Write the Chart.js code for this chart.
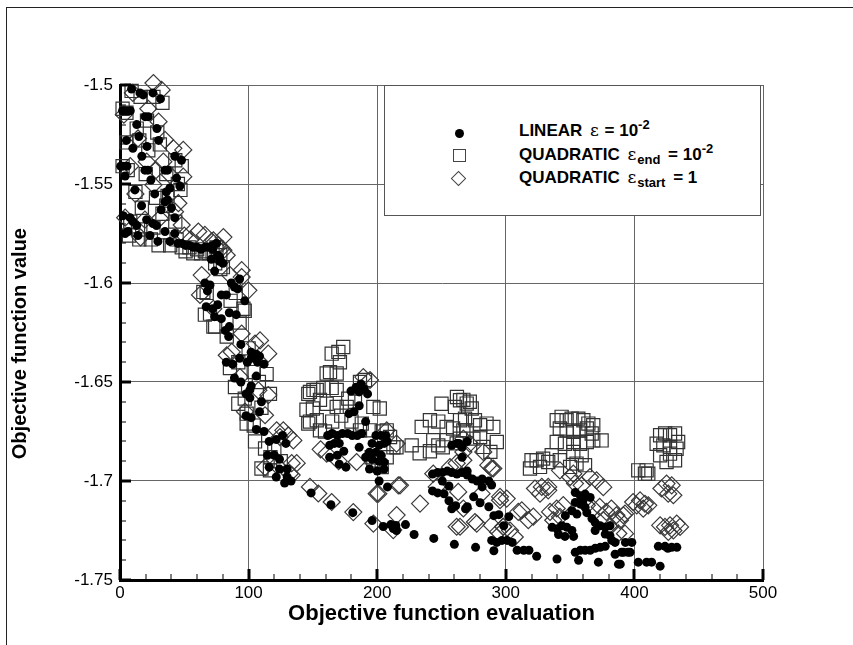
<!DOCTYPE html>
<html>
<head>
<meta charset="utf-8">
<script src="https://cdn.jsdelivr.net/npm/chart.js@4.4.1/dist/chart.umd.min.js"></script>
<style>
  html, body { margin: 0; padding: 0; background: #fff; }
  #wrap { position: relative; width: 853px; height: 645px; overflow: hidden; background: #fff; }
  #frame { position: absolute; left: 6px; top: 7px; width: 900px; height: 700px; border-left: 1.5px solid #222; border-top: 1.5px solid #222; pointer-events: none; }
  #legend { position: absolute; left: 384px; top: 85px; width: 377px; height: 131px; background: #fff; border: 1px solid #555; box-sizing: border-box;
            font-family: 'Liberation Sans', Arial, sans-serif; font-weight: bold; font-size: 17px; color: #000; }
  .row { position: absolute; left: 0; width: 100%; height: 20px; }
  .mk { position: absolute; box-sizing: border-box; }
  .txt { position: absolute; left: 134px; top: 0; line-height: 20px; white-space: nowrap; }
  .eps { font-family: 'DejaVu Serif', serif; font-weight: normal; font-size: 17px; margin: 0 1px 0 3px; }
  sub, sup { font-size: 13px; line-height: 0; }
  sub { margin-right: 3px; }
</style>
</head>
<body>
<div id="wrap">
  <canvas id="chart" width="853" height="645"></canvas>
  <div id="frame"></div>
  <div id="legend">
    <div class="row" style="top:34px">
      <div class="mk" style="left:70px;top:9px;width:9px;height:9px;border-radius:50%;background:#000"></div>
      <div class="txt">LINEAR <span class="eps">&epsilon;</span> = 10<sup>-2</sup></div>
    </div>
    <div class="row" style="top:58px">
      <div class="mk" style="left:68px;top:5px;width:13px;height:13px;border:1px solid #444"></div>
      <div class="txt">QUADRATIC <span class="eps">&epsilon;</span><sub>end</sub> = 10<sup>-2</sup></div>
    </div>
    <div class="row" style="top:81px">
      <div class="mk" style="left:68px;top:6px;width:11px;height:11px;border:1px solid #444;transform:rotate(45deg)"></div>
      <div class="txt">QUADRATIC <span class="eps">&epsilon;</span><sub>start</sub> = 1</div>
    </div>
  </div>
</div>
<script>
// LINEAR, eps = 1e-2  (filled circles)
const linearPts = [
  [9,-1.502],[15.5,-1.504],[25.6,-1.504],[31.5,-1.507],
  [2,-1.513],[5,-1.513],[8,-1.513],[19.5,-1.516],[22,-1.516],
  [13,-1.520],[28.7,-1.522],[5,-1.528],[14.7,-1.526],[21,-1.531],[30,-1.528],
  [42.6,-1.536],[47.8,-1.538],
  [0.5,-1.541],[2.3,-1.541],[5.4,-1.541],[19.4,-1.543],[21.7,-1.543],[35,-1.543],[37,-1.543],
  [44,-1.547],[46.5,-1.551],[11.6,-1.553],[27,-1.555],[36,-1.554],[38.8,-1.552],
  [16.8,-1.561],[35,-1.559],[37,-1.558],[32,-1.563],[42.6,-1.567],
  [2.5,-1.566],[7.8,-1.567],[10,-1.569],[13,-1.571],[20.7,-1.568],[25.6,-1.570],[28.4,-1.571],
  [6.3,-1.574],[14,-1.576],[23.3,-1.576],[29.5,-1.579],[35,-1.574],[38.8,-1.579],[42.6,-1.575],
  [45,-1.580],[48,-1.580],[51,-1.581],[54,-1.581],[57,-1.582],[60,-1.582],[63,-1.583],[66,-1.582],
  [69,-1.582],[72,-1.581],[75,-1.580],[77.5,-1.587],
  [72,-1.583],[76,-1.586],[71,-1.588],[77.5,-1.589],[80,-1.590],[73.6,-1.594],
  [66,-1.600],[70,-1.601],[68,-1.604],[86.6,-1.600],[89,-1.602],[93,-1.598],[91.5,-1.603],
  [78.8,-1.606],[82.7,-1.606],[97,-1.609],[67,-1.612],[72,-1.613],[76,-1.611],
  [73.6,-1.617],[78.8,-1.618],[85,-1.615],[90.4,-1.616],[85,-1.622],[82,-1.624],[84.5,-1.627],
  [94,-1.631],[102,-1.635],[106,-1.636],[108.5,-1.637],[93,-1.638],[102,-1.638],
  [82.7,-1.640],[87.6,-1.641],[112,-1.641],[107,-1.640],[99,-1.640],
  [106,-1.647],[89,-1.648],[94,-1.650],[101,-1.654],[98,-1.656],[102,-1.652],[101,-1.658],[110,-1.660],
  [98,-1.667],[102,-1.668],[108.5,-1.665],[106,-1.674],[112,-1.675],
  [116,-1.680],[121.5,-1.679],[126.4,-1.677],[129,-1.681],
  [114.7,-1.687],[120,-1.687],[124,-1.689],[116,-1.693],[124,-1.694],[130,-1.694],
  [121.5,-1.698],[130,-1.698],[133,-1.700],[128,-1.701],
  [179.6,-1.6546],[183.5,-1.6527],[187.4,-1.651],[190,-1.6537],[192.5,-1.656],[186,-1.655],
  [186,-1.662],[178,-1.666],[182,-1.665],[191,-1.670],
  [161.5,-1.677],[165,-1.676],[169,-1.677],[173,-1.676],[177,-1.676],[180.6,-1.677],[184.5,-1.677],[188,-1.676],
  [163,-1.682],[166.7,-1.681],[170.5,-1.681],[174,-1.685],[163,-1.688],[169,-1.687],[170.5,-1.6915],[175.7,-1.693],
  [199,-1.677],[203,-1.677],[206.7,-1.677],[207.8,-1.680],[196,-1.681],[201.5,-1.682],[205.4,-1.681],
  [186,-1.683],[194,-1.6855],[199,-1.6855],[203,-1.687],[191,-1.688],[196,-1.689],[201.5,-1.690],[205.4,-1.6905],
  [194,-1.694],[200,-1.695],[205.4,-1.694],[201.5,-1.700],[208,-1.703],
  [148.6,-1.706],[164,-1.712],[181,-1.716],[196,-1.720],[204.7,-1.723],[210.6,-1.722],[212.5,-1.724],
  [214.5,-1.7225],[215,-1.725],[222,-1.722],[228.7,-1.727],[244,-1.729],[260,-1.732],
  [258,-1.682],[262,-1.681],[266,-1.683],[270,-1.680],[266,-1.688],[263.6,-1.681],
  [243,-1.6965],[247,-1.6957],[250.6,-1.6957],[254.5,-1.695],[258,-1.6957],[262,-1.6965],[266,-1.6957],[270,-1.695],
  [250.6,-1.700],[255.8,-1.7025],[243,-1.705],[247,-1.706],[252,-1.7065],
  [255.8,-1.710],[261,-1.7125],[258,-1.714],[268.7,-1.714],
  [270,-1.697],[274,-1.699],[277.7,-1.700],[281.6,-1.699],[286.8,-1.700],[281.6,-1.703],[289,-1.702],
  [275,-1.708],[280,-1.711],[270,-1.713],[286.8,-1.713],
  [290.7,-1.7175],[294.6,-1.717],[302.3,-1.718],[298.4,-1.7226],
  [289,-1.730],[293,-1.731],[297,-1.730],[301,-1.730],[305,-1.731],
  [276.5,-1.7335],[290.7,-1.7352],[308.8,-1.735],[314,-1.735],[318,-1.735],[324,-1.738],
  [339.8,-1.7394],[356.6,-1.740],[372,-1.741],[387.6,-1.742],
  [354,-1.736],[358,-1.735],[361.7,-1.735],[365.6,-1.735],[369.5,-1.734],[373.4,-1.7335],[377.3,-1.733],
  [385,-1.737],[390,-1.736],[395,-1.736],
  [336,-1.7234],[340,-1.7243],[343.6,-1.7226],[347.5,-1.7234],[351.4,-1.725],[341,-1.727],[346,-1.728],[352.7,-1.728],
  [354,-1.7058],[358,-1.7075],[361.7,-1.7066],[365.6,-1.7083],[354,-1.7108],[358,-1.7117],[361.7,-1.7133],
  [351.4,-1.715],[355.3,-1.7167],[346.3,-1.7175],[360,-1.710],[363,-1.716],
  [367,-1.719],[369.5,-1.721],[373.4,-1.7226],[377.3,-1.7234],[381,-1.7226],[369.5,-1.725],[377.3,-1.7268],
  [381,-1.7276],[382.4,-1.730],[385,-1.731],[393,-1.731],[398,-1.731],
  [418.6,-1.733],[423.8,-1.733],[429,-1.7335],[433,-1.7335],[426,-1.734],
  [391.5,-1.736],[396.6,-1.736],[389,-1.742],[403,-1.741],[409.5,-1.741],[413.4,-1.741],[420,-1.743],
  [4,-1.546],[17,-1.536],[24,-1.548],[10,-1.532],[40,-1.562],[18,-1.505],[4,-1.575]
];

// QUADRATIC, eps_end = 1e-2  (open squares)
const quadEndPts = [
  [9,-1.503],[16,-1.506],[26,-1.506],[33,-1.509],[5,-1.514],[2,-1.512],[21,-1.518],[13,-1.522],[29,-1.524],
  [5,-1.529],[15,-1.528],[22,-1.533],[31,-1.530],[43,-1.538],[48,-1.541],[2,-1.541],[6,-1.543],[20,-1.545],
  [36,-1.545],[45,-1.550],[47,-1.553],[12,-1.554],[28,-1.557],[37,-1.556],[17,-1.562],[36,-1.561],[33,-1.565],
  [43,-1.569],[8,-1.569],[14,-1.573],[26,-1.572],[7,-1.576],[15,-1.578],[24,-1.578],[30,-1.581],[39,-1.581],[44,-1.578],
  [48,-1.582],[51,-1.584],[54,-1.582],[57,-1.585],[60,-1.583],[63,-1.585],[66,-1.584],[69,-1.585],[72,-1.584],
  [75,-1.582],[78,-1.586],
  [74,-1.590],[78,-1.593],[80,-1.592],[64.8,-1.6045],[67.4,-1.605],[66,-1.616],[70,-1.6155],[72.6,-1.622],
  [74,-1.622],[83,-1.627],[96,-1.613],[97,-1.614],[90,-1.605],[86,-1.609],[93,-1.620],[85.5,-1.643],
  [89.4,-1.6525],[97,-1.6584],[98.5,-1.666],[98.5,-1.671],[105,-1.680],[112.8,-1.6836],[116.6,-1.656],
  [114,-1.646],[110,-1.6937],[116.6,-1.6946],[104,-1.645],[108,-1.650],[92,-1.640],[100,-1.633],[110,-1.663],
  [120,-1.684],[125,-1.690],[117,-1.688],[104,-1.672],[92,-1.661],
  [146.4,-1.656],[150.4,-1.654],[145,-1.664],[150,-1.6634],[146.4,-1.671],
  [173.6,-1.6323],[169.8,-1.6348],[164.6,-1.6357],[171,-1.640],[163.3,-1.645],[160.7,-1.6457],[168.5,-1.6457],
  [147.7,-1.655],[153,-1.654],[158,-1.653],[164.6,-1.653],[168.5,-1.654],
  [155.5,-1.659],[160.7,-1.661],[168.5,-1.6626],[176.3,-1.6626],
  [147.7,-1.670],[153,-1.6693],[155.5,-1.6744],[159.4,-1.675],
  [177.5,-1.6584],[182.7,-1.660],[197,-1.6626],[202,-1.6634],[186.6,-1.650],[190.5,-1.649],
  [188,-1.671],[186.6,-1.6744],[194.4,-1.6744],[203.5,-1.675],[207.4,-1.6744],[210,-1.6778],[212.6,-1.683],[215,-1.683],
  [195.7,-1.688],[200.9,-1.6896],[207.4,-1.688],[197,-1.692],[203.5,-1.693],
  [172,-1.667],[180,-1.670],[165,-1.670],
  [250,-1.661],[262,-1.6576],[267,-1.659],[272,-1.660],[260.5,-1.6626],[264.4,-1.6592],[269.6,-1.6609],[273.5,-1.6634],
  [234.6,-1.6727],[241,-1.6693],[247.5,-1.670],[254,-1.6727],[259,-1.6735],[264.4,-1.6693],[268.3,-1.6685],[267,-1.6744],
  [226.8,-1.682],[233,-1.686],[241,-1.685],[243.6,-1.6794],[247.5,-1.682],[251,-1.683],[254,-1.6794],[261.8,-1.681],[264.4,-1.6786],
  [276,-1.6693],[280,-1.6718],[285,-1.671],[290.3,-1.6727],[293,-1.6803],[288,-1.6853],[282.5,-1.6828],
  [274.8,-1.6786],[269.6,-1.6744],[280,-1.6778],
  [320,-1.6895],[324,-1.6895],[329,-1.6887],[333,-1.6904],[318.8,-1.6937],[326.6,-1.6929],[335.7,-1.687],
  [339.6,-1.6693],[343.4,-1.6676],[347.3,-1.6693],[351.2,-1.6685],[356.4,-1.6685],[360.3,-1.6693],[364.2,-1.671],[368,-1.6718],
  [342,-1.6735],[347.3,-1.6744],[352.5,-1.6752],[357.7,-1.6744],[363,-1.6735],[366.8,-1.676],
  [339.6,-1.6803],[346,-1.6812],[352.5,-1.6803],[357.7,-1.6812],[363,-1.6803],[368,-1.6795],[374.5,-1.6795],
  [352.5,-1.6853],[359,-1.687],[342,-1.6895],[355,-1.6912],[361.6,-1.692],[350,-1.6929],
  [420,-1.6769],[423.9,-1.676],[427.7,-1.6769],[431.6,-1.676],[434,-1.6803],[417.3,-1.6812],[422.5,-1.682],
  [427.7,-1.6828],[432.8,-1.6837],[420,-1.687],[427.7,-1.6862],[431.6,-1.6895],[425,-1.6904],
  [403,-1.6946],[409.5,-1.6946],[410.8,-1.6963],[408.2,-1.6963]
];

// QUADRATIC, eps_start = 1  (open diamonds)
const quadStartPts = [
  [26,-1.499],[32.4,-1.5025],[22,-1.512],[30,-1.5185],[35,-1.5277],[41.5,-1.532],[49.2,-1.5328],[20.8,-1.5387],
  [33.7,-1.5387],[38.9,-1.5454],[49.2,-1.5463],[26,-1.5505],[45.4,-1.5597],[42.8,-1.564],[31,-1.5673],[19.4,-1.568],
  [48,-1.5707],[60.9,-1.574],[66,-1.5757],[71.3,-1.579],[76.4,-1.5807],[79,-1.5825],
  [3,-1.515],[8,-1.541],[12,-1.555],[4,-1.567],[16,-1.577],[10,-1.504],[28,-1.543],[14,-1.527],[55,-1.578],[50,-1.576],
  [72.6,-1.5784],[80.4,-1.5768],[80.4,-1.5835],[83,-1.586],[63.5,-1.596],[94.6,-1.5935],[94.6,-1.597],[85.5,-1.596],
  [62.2,-1.606],[99.8,-1.6037],[72.6,-1.613],[108.9,-1.629],[105,-1.6306],[115.3,-1.6357],[83,-1.6365],[86.9,-1.6348],
  [94.6,-1.6256],[93.3,-1.6475],[107.6,-1.6542],[115.3,-1.6566],[97.2,-1.665],[112.8,-1.6668],[121.8,-1.6744],
  [127,-1.6744],[124.4,-1.6778],[130.9,-1.677],[112.8,-1.693],[121.8,-1.692],[133.5,-1.691],
  [134.8,-1.6795],[137.4,-1.691],[133.5,-1.697],[132,-1.6963],
  [147.7,-1.703],[154.2,-1.7063],[164.6,-1.7106],[181.4,-1.7157],[197,-1.7215],[200.9,-1.7064],[216.4,-1.7022],
  [215.1,-1.7172],[212.5,-1.7248],[233.3,-1.7114],[261.8,-1.7231],[277.4,-1.7215],[295.5,-1.7097],[300.7,-1.7089],
  [303.3,-1.725],[298,-1.7231],[307,-1.7283],[309.7,-1.7156],
  [160.7,-1.6862],[184,-1.6904],[189.2,-1.6475],[194.4,-1.649],[207.4,-1.6744],[215,-1.6811],[199.6,-1.7064],
  [217.7,-1.7022],[156,-1.684],[170,-1.690],
  [243.6,-1.6963],[246.3,-1.703],[263,-1.7055],[256.6,-1.693],[261.8,-1.691],[267,-1.6895],[267,-1.6853],
  [267,-1.6786],[272,-1.6811],[282.5,-1.6853],[289,-1.6937],[295.5,-1.708],[281.2,-1.7064],[276,-1.7207],
  [289,-1.7223],[298,-1.7231],[294,-1.7257],[312.4,-1.7148],[290.3,-1.6937],[286.4,-1.692],[264.4,-1.7231],[267,-1.7139],
  [322.7,-1.7038],[328,-1.703],[333,-1.703],[326.6,-1.7064],[317.5,-1.7198],[321.4,-1.718],
  [339.6,-1.7139],[344.7,-1.7122],[334.4,-1.7156],[342.1,-1.7181],[336.9,-1.7198],[333,-1.7047],[342.1,-1.6946],
  [352.5,-1.6963],[350,-1.698],[353.8,-1.7013],[359,-1.7022],[365.5,-1.698],[370.6,-1.6997],[375.8,-1.7031],
  [363,-1.7123],[368,-1.7139],[373,-1.7131],[378.2,-1.7156],[382.1,-1.7139],[386,-1.7173],[388.8,-1.7198],
  [392.7,-1.7165],[375.8,-1.7198],[381,-1.7231],[387.5,-1.7265],[399,-1.7106],
  [425,-1.7013],[429,-1.7022],[421,-1.7038],[426.3,-1.7064],[430.3,-1.7072],[404.4,-1.7098],[408.2,-1.7115],
  [410.8,-1.7123],[406.9,-1.714],[401.8,-1.7123],[391.4,-1.7173],[392.7,-1.7266],[420,-1.7224],[423.8,-1.7232],
  [427.7,-1.7224],[432.9,-1.7215],[435.5,-1.7232],[426.4,-1.7257],[430.3,-1.725]
];

const xRange = [0, 500];
const yRange = [-1.75, -1.5];
const xMajorStep = 100, xMinorStep = 20;
const yMajorStep = 0.05, yMinorStep = 0.01;

const toXY = pts => pts.map(p => ({ x: p[0], y: p[1] }));
const FONT = "'Liberation Sans', Arial, sans-serif";
Chart.defaults.font.family = FONT;
Chart.defaults.color = '#000';

// tick marks pointing into the plot, like the original
const innerTicks = {
    id: 'innerTicks',
    afterDatasetsDraw(chart) {
        const { ctx, chartArea, scales } = chart;
        const xs = scales.x, ys = scales.y;
        ctx.save();
        ctx.strokeStyle = '#000';
        const n = Math.round((xRange[1] - xRange[0]) / xMinorStep);
        for (let i = 0; i <= n; i++) {
            const v = xRange[0] + i * xMinorStep;
            const major = Math.abs(v / xMajorStep - Math.round(v / xMajorStep)) < 1e-6;
            const px = Math.round(xs.getPixelForValue(v));
            ctx.lineWidth = major ? 3 : 1;
            ctx.beginPath();
            ctx.moveTo(px, chartArea.bottom);
            ctx.lineTo(px, chartArea.bottom - (major ? 11 : 6));
            ctx.stroke();
        }
        const m = Math.round((yRange[1] - yRange[0]) / yMinorStep);
        for (let i = 0; i <= m; i++) {
            const v = yRange[0] + i * yMinorStep;
            const major = Math.abs(v / yMajorStep - Math.round(v / yMajorStep)) < 1e-6;
            const py = Math.round(ys.getPixelForValue(v));
            ctx.lineWidth = major ? 3 : 1;
            ctx.beginPath();
            ctx.moveTo(chartArea.left, py);
            ctx.lineTo(chartArea.left + (major ? 11 : 6), py);
            ctx.stroke();
        }
        ctx.restore();
    }
};

new Chart(document.getElementById('chart'), {
    type: 'scatter',
    data: {
        datasets: [
            {
                label: 'LINEAR',
                data: toXY(linearPts),
                pointStyle: 'circle',
                pointRadius: 4.5,
                backgroundColor: '#000',
                borderColor: '#000',
                borderWidth: 0,
                clip: false
            },
            {
                label: 'QUADRATIC end',
                data: toXY(quadEndPts),
                pointStyle: 'rect',
                pointRadius: 9.3,
                backgroundColor: 'rgba(0,0,0,0)',
                borderColor: '#333',
                borderWidth: 1.2,
                clip: false
            },
            {
                label: 'QUADRATIC start',
                data: toXY(quadStartPts),
                pointStyle: 'rectRot',
                pointRadius: 8.5,
                backgroundColor: 'rgba(0,0,0,0)',
                borderColor: '#3a3a3a',
                borderWidth: 1.2,
                clip: false
            }
        ]
    },
    options: {
        responsive: false,
        animation: false,
        events: [],
        layout: { padding: { top: 85, right: 90, left: 0, bottom: 0 } },
        plugins: {
            legend: { display: false },
            tooltip: { enabled: false }
        },
        scales: {
            x: {
                type: 'linear',
                min: xRange[0],
                max: xRange[1],
                ticks: { stepSize: xMajorStep, padding: 3, maxRotation: 0, font: { size: 17 }, color: '#000' },
                grid: { color: '#666', lineWidth: 1, drawTicks: false },
                border: { color: '#000', width: 3 },
                title: {
                    display: true,
                    text: 'Objective function evaluation',
                    color: '#000',
                    font: { size: 22, weight: 'bold' },
                    padding: { top: 0, bottom: 18 }
                },
                afterFit(scale) { scale.height = 65; }
            },
            y: {
                type: 'linear',
                min: yRange[0],
                max: yRange[1],
                ticks: {
                    stepSize: yMajorStep,
                    padding: 7,
                    font: { size: 17 },
                    color: '#000',
                    callback: v => String(+v.toFixed(2))
                },
                grid: { color: '#666', lineWidth: 1, drawTicks: false },
                border: { color: '#000', width: 3 },
                title: {
                    display: true,
                    text: 'Objective function value    ',
                    color: '#000',
                    font: { size: 20, weight: 'bold' },
                    padding: { top: 8, bottom: 0 }
                },
                afterFit(scale) { scale.width = 120; }
            }
        }
    },
    plugins: [innerTicks]
});
</script>
</body>
</html>
